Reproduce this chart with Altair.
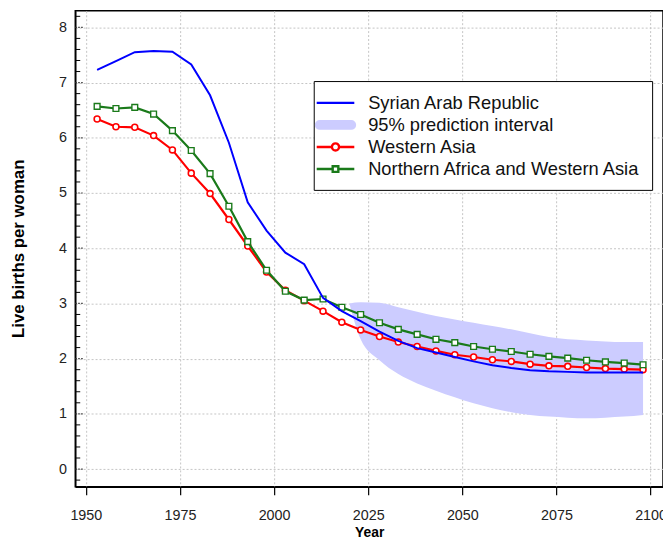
import altair as alt
import pandas as pd

# ---------------- data ----------------
years = [1953, 1958, 1963, 1968, 1973, 1978, 1983, 1988, 1993, 1998,
         2003, 2008, 2013, 2018, 2023, 2028, 2033, 2038, 2043, 2048,
         2053, 2058, 2063, 2068, 2073, 2078, 2083, 2088, 2093, 2098]
syria = [7.23, 7.39, 7.55, 7.57, 7.56, 7.33, 6.77, 5.91, 4.83, 4.32,
         3.92, 3.71, 3.10, 2.86, 2.68, 2.49, 2.32, 2.19, 2.11, 2.03,
         1.95, 1.88, 1.83, 1.79, 1.77, 1.76, 1.75, 1.75, 1.75, 1.75]
western_asia = [6.34, 6.20, 6.19, 6.04, 5.78, 5.36, 4.99, 4.52, 4.04, 3.57,
                3.24, 3.05, 2.86, 2.66, 2.52, 2.40, 2.30, 2.22, 2.14, 2.07,
                2.03, 1.98, 1.95, 1.90, 1.87, 1.86, 1.84, 1.82, 1.81, 1.80]
nafrica_wasia = [6.57, 6.53, 6.55, 6.43, 6.13, 5.77, 5.35, 4.76, 4.12, 3.60,
                 3.22, 3.06, 3.08, 2.93, 2.80, 2.65, 2.53, 2.44, 2.35, 2.29,
                 2.22, 2.17, 2.13, 2.08, 2.04, 2.01, 1.97, 1.94, 1.92, 1.89]

band_years = [2020, 2023, 2028, 2033, 2038, 2043, 2048, 2053, 2058,
              2063, 2068, 2073, 2078, 2083, 2088, 2093, 2098]
band_lower = [3.00, 2.35, 1.97, 1.72, 1.55, 1.42, 1.30, 1.19, 1.10,
              1.03, 0.98, 0.95, 0.93, 0.92, 0.93, 0.95, 0.98]
band_upper = [3.00, 3.02, 3.01, 2.93, 2.85, 2.77, 2.71, 2.65, 2.59,
              2.53, 2.46, 2.39, 2.35, 2.33, 2.31, 2.30, 2.30]

series_names = ["Syrian Arab Republic", "95% prediction interval",
                "Western Asia", "Northern Africa and Western Asia"]
series_stroke = ["#0000ff", "#ccccff", "#ff0000", "#1a7a1a"]
series_fill = ["transparent", "#ccccff", "transparent", "transparent"]
legend_paths = [
    "M-2,0H2",
    "M-1.67,-0.4H1.67A0.4,0.4 0 0 1 1.67,0.4H-1.67A0.4,0.4 0 0 1 -1.67,-0.4Z",
    "M-2,0H-0.38M0.38,0H2M0.38,0A0.38,0.38 0 1 1 -0.38,0A0.38,0.38 0 1 1 0.38,0",
    "M-2,0H-0.3M0.3,0H2M-0.3,-0.3H0.3V0.3H-0.3Z",
]

x_ticks = [1950, 1975, 2000, 2025, 2050, 2075, 2100]
y_ticks = [0, 1, 2, 3, 4, 5, 6, 7, 8]
minor_ticks = [round(i * 0.2, 1) for i in range(-1, 42) if i % 5 != 0]

# ---------------- tables ----------------
df_syria = pd.DataFrame({"year": years, "v": syria})
df_wa = pd.DataFrame({"year": years, "v": western_asia})
df_nawa = pd.DataFrame({"year": years, "v": nafrica_wasia})
df_band = pd.DataFrame({"year": band_years, "lo": band_lower, "hi": band_upper})
df_minor = pd.DataFrame({"v": minor_ticks})
df_major = pd.DataFrame({"v": y_ticks})
df_legend = pd.DataFrame({"series": series_names, "year": [1900] * 4, "v": [0] * 4})

FONT = "Liberation Sans"

xscale = alt.Scale(domain=[1947.2, 2103.3], nice=False, zero=False)
yscale = alt.Scale(domain=[-0.32, 8.3], nice=False, zero=False)

xaxis = alt.Axis(values=x_ticks, format="d", labelFontSize=14.5, labelColor="#222222",
                 labelFont=FONT, labelPadding=14, tickSize=8, tickColor="black",
                 tickWidth=1.2, domainColor="black", domainWidth=1.5,
                 grid=True, gridColor="#c4c4c4", gridDash=[2, 2],
                 title="Year", titleFont=FONT, titleFontSize=14, titleFontWeight="bold",
                 titleColor="black", titleY=46, titleBaseline="middle")
yaxis = alt.Axis(values=y_ticks, labelFontSize=14.5, labelColor="#222222", labelFont=FONT,
                 labelPadding=9, ticks=False, tickSize=0, domainColor="black",
                 domainWidth=1.5, grid=True, gridColor="#c4c4c4", gridDash=[2, 2],
                 title="Live births per woman", titleFont=FONT, titleFontSize=17,
                 titleFontWeight="bold", titleColor="black", titleAngle=270,
                 titleX=-57, titleY=240, titleBaseline="middle", titleAlign="center")


def X(field):
    return alt.X(field, type="quantitative", scale=xscale, axis=xaxis)


def Y(field):
    return alt.Y(field, type="quantitative", scale=yscale, axis=yaxis)


band = alt.Chart(df_band).mark_area(color="#ccccff", opacity=1, interpolate="monotone",
                                    clip=True).encode(
    x=X("year"), y=Y("lo"), y2=alt.Y2("hi"))

minor = alt.Chart(df_minor).mark_rule(color="black", strokeWidth=1).encode(
    y=Y("v"), x=alt.value(0), x2=alt.value(5))
major = alt.Chart(df_major).mark_rule(color="#333333", strokeWidth=1.2,
                                      strokeDash=[1.5, 1.5]).encode(
    y=Y("v"), x=alt.value(0), x2=alt.value(9))

wa_line = alt.Chart(df_wa).mark_line(color="#ff0000", strokeWidth=2.2, clip=True).encode(
    x=X("year"), y=Y("v"))
wa_pts = alt.Chart(df_wa).mark_point(shape="circle", size=36, filled=True, fill="white",
                                     stroke="#ff0000", strokeWidth=1.6, opacity=1,
                                     clip=True).encode(x=X("year"), y=Y("v"))
na_line = alt.Chart(df_nawa).mark_line(color="#1a7a1a", strokeWidth=2.2, clip=True).encode(
    x=X("year"), y=Y("v"))
na_pts = alt.Chart(df_nawa).mark_point(shape="square", size=34, filled=True, fill="white",
                                       stroke="#1a7a1a", strokeWidth=1.4, opacity=1,
                                       clip=True).encode(x=X("year"), y=Y("v"))
sy_line = alt.Chart(df_syria).mark_line(color="#0000ff", strokeWidth=2, clip=True).encode(
    x=X("year"), y=Y("v"))

leg = alt.Legend(title=None, orient="none", legendX=241, legendY=71, padding=11,
                 strokeColor="black", fillColor="white", symbolSize=361,
                 symbolStrokeWidth=2.4, labelFontSize=18.5, labelFont=FONT,
                 labelColor="#111111", labelOffset=22, labelLimit=400, rowPadding=1.3)

legend_layer = alt.Chart(df_legend).mark_point(clip=True, opacity=1).encode(
    x=X("year"), y=Y("v"),
    stroke=alt.Stroke("series:N", scale=alt.Scale(domain=series_names, range=series_stroke),
                      legend=leg),
    fill=alt.Fill("series:N", scale=alt.Scale(domain=series_names, range=series_fill),
                  legend=leg),
    shape=alt.Shape("series:N", scale=alt.Scale(domain=series_names, range=legend_paths),
                    legend=leg),
)

chart = alt.layer(
    band, minor, major, wa_line, wa_pts, na_line, na_pts, sy_line, legend_layer
).properties(
    width=594, height=481,
    autosize=alt.AutoSizeParams(type="none"),
    padding={"left": 68, "top": 0, "right": 0, "bottom": 50},
).configure(font=FONT).configure_view(stroke="black", strokeWidth=1.5)

chart.save("out.html", embed_options={"renderer": "svg", "actions": False})
